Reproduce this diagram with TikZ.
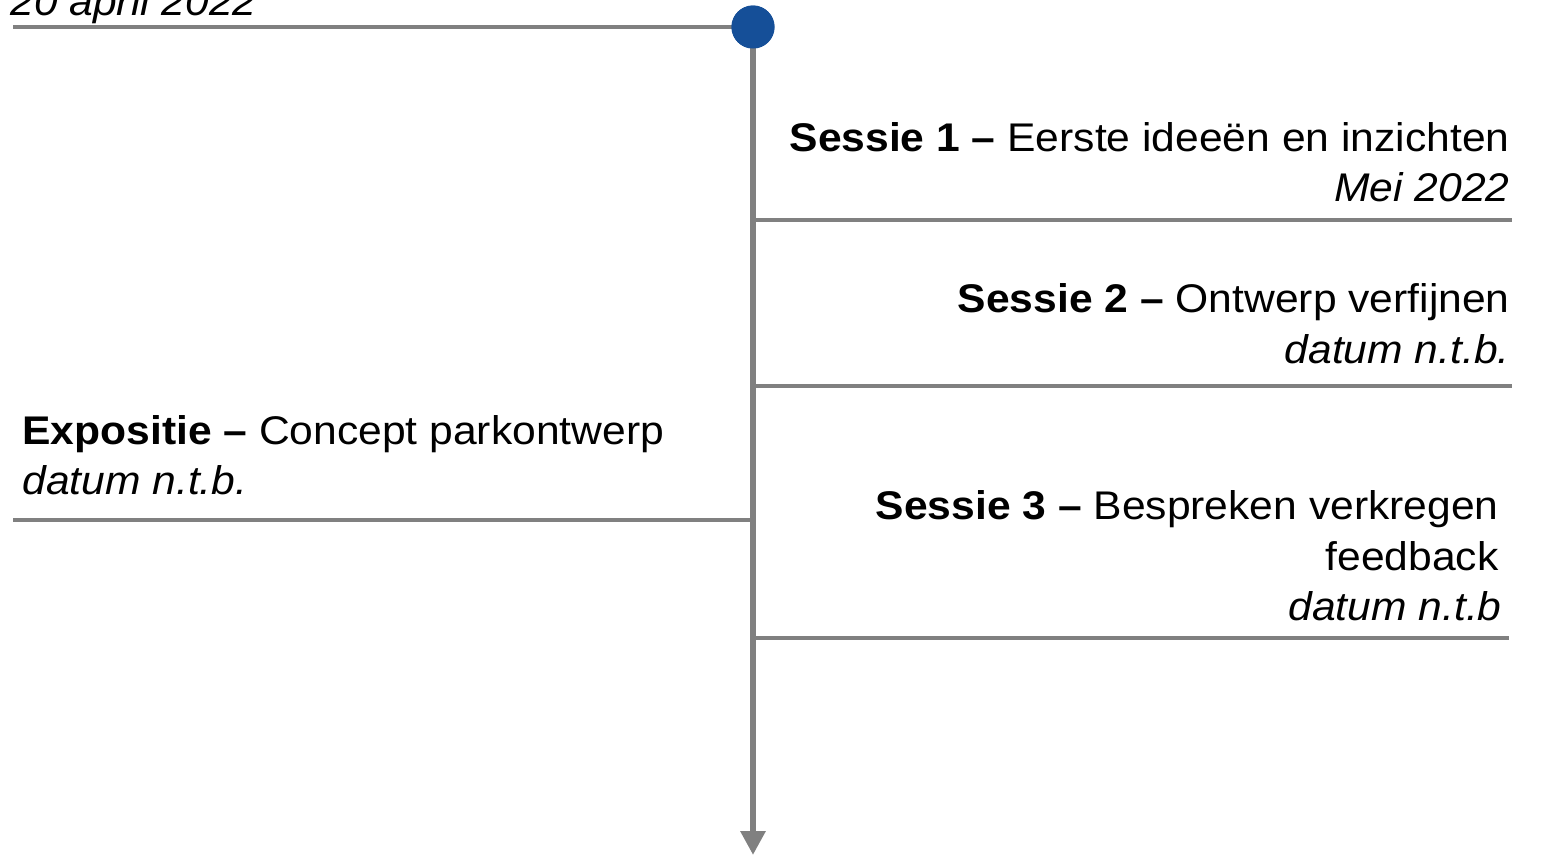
\documentclass[tikz,border=0pt]{standalone}
\usepackage{fontspec}
\setmainfont[FakeStretch=1.065]{Liberation Sans}
\usetikzlibrary{arrows.meta}
\definecolor{tlgray}{RGB}{128,128,128}
\definecolor{tlblue}{RGB}{21,79,152}
\tikzset{
  hline/.style={draw=tlgray,line width=2pt},
  vline/.style={draw=tlgray,line width=3.2pt,-{Triangle[width=12pt,length=12pt]}},
  lbl/.style={inner sep=0pt,font=\fontsize{20pt}{25pt}\selectfont},
  dot/.style={circle,fill=tlblue,minimum size=21.5pt,inner sep=0pt}
}
\begin{document}
\begin{tikzpicture}[x=0.5pt,y=-0.5pt]
\useasboundingbox (0,0) rectangle (1542,858);
% coordinates
\coordinate (topL) at (13,27);
\coordinate (bottom) at (753,855);
\coordinate (s1a) at (753,220); \coordinate (s1b) at (1512,220);
\coordinate (s2a) at (753,386); \coordinate (s2b) at (1512,386);
\coordinate (exa) at (13,520);  \coordinate (exb) at (753,520);
\coordinate (s3a) at (753,638); \coordinate (s3b) at (1509,638);
% lines
\draw[hline] (topL) -- (753,27);
\draw[hline] (s1a) -- (s1b);
\draw[hline] (s2a) -- (s2b);
\draw[hline] (exa) -- (exb);
\draw[hline] (s3a) -- (s3b);
\node[dot] (start) at (753,27) {};
\draw[vline] (start.center) -- (bottom);
\node[dot] at (753,27) {};
% texts
\node[lbl,anchor=base west] (t0) at (10,15) {\itshape 20 april 2022};
\node[lbl,anchor=base east] (t1a) at (1510,151) {\textbf{Sessie 1 –} Eerste ideeën en inzichten};
\node[lbl,anchor=base east] (t1b) at (1510,201) {\itshape Mei 2022};
\node[lbl,anchor=base east] (t2a) at (1510,312) {\textbf{Sessie 2 –} Ontwerp verfijnen};
\node[lbl,anchor=base east] (t2b) at (1510,363) {\itshape datum n.t.b.};
\node[lbl,anchor=base west] (tea) at (22,444) {\textbf{Expositie –} Concept parkontwerp};
\node[lbl,anchor=base west] (teb) at (22,494) {\itshape datum n.t.b.};
\node[lbl,anchor=base east] (t3a) at (1499,519) {\textbf{Sessie 3 –} Bespreken verkregen};
\node[lbl,anchor=base east] (t3b) at (1499,570) {feedback};
\node[lbl,anchor=base east] (t3c) at (1502,620) {\itshape datum n.t.b};
\end{tikzpicture}
\end{document}
